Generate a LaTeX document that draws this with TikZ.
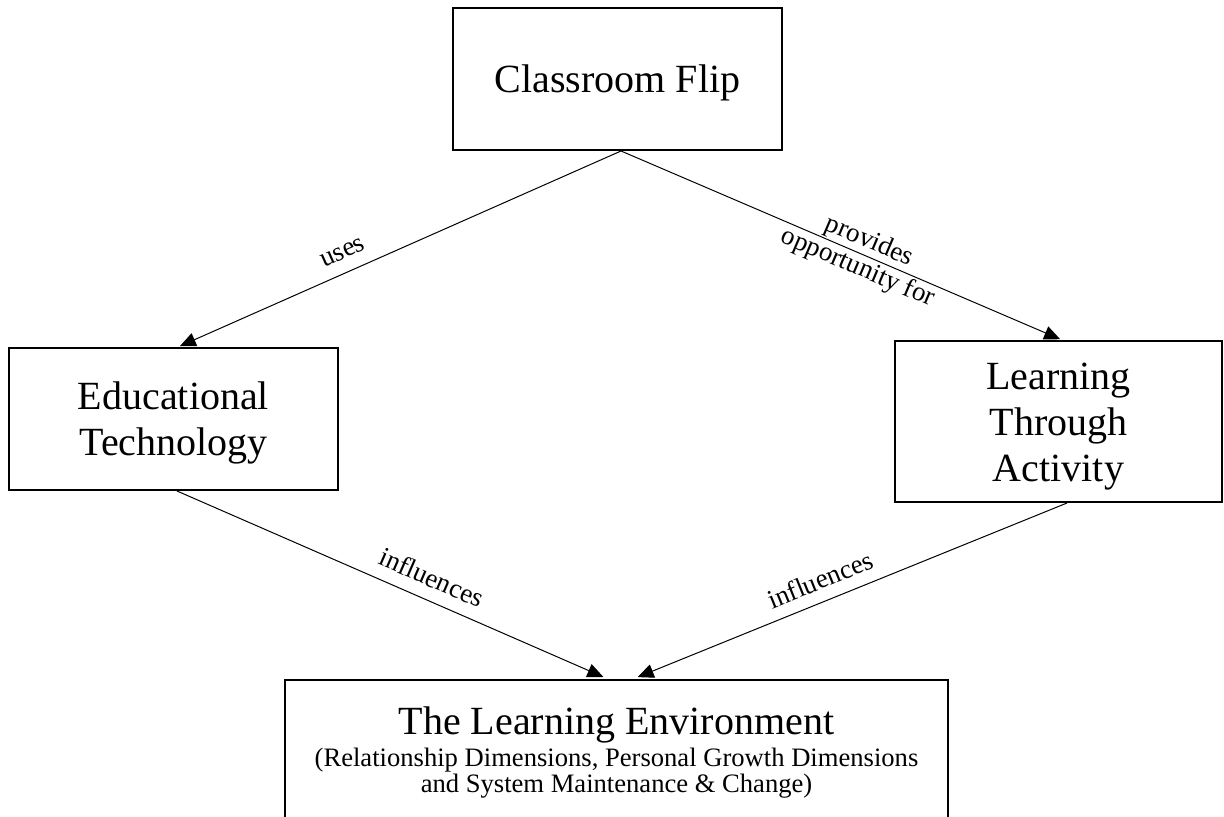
\documentclass[tikz,border=0pt]{standalone}
\usepackage{fontspec}
\setmainfont{Liberation Serif}
\usetikzlibrary{arrows.meta}

\newcommand{\subtext}{\fontsize{13.3}{13.5}\selectfont}
\newcommand{\toppad}{\rule{0pt}{18.2pt}}

\begin{document}
\begin{tikzpicture}[x=0.5pt,y=-0.5pt,
        >={Triangle[length=8pt,width=7pt]},
        box/.style={draw, line width=1pt, align=center, inner sep=0pt, font=\fontsize{20}{23}\selectfont},
        link/.style={->, line width=0.5pt, shorten >=1pt},
        lbl/.style={sloped, align=center, font=\fontsize{13.5}{14.4}\selectfont}]
        \useasboundingbox (0,0) rectangle (1224,817);

        % Draw the boxes
        \node[box, minimum width=164.5pt, minimum height=71pt] (flip) at (617.5,79) {\toppad Classroom Flip};
        \node[box, minimum width=164.5pt, minimum height=71pt] (edtech) at (173.5,419) {\toppad Educational\\Technology};
        \node[box, minimum width=163.5pt, minimum height=80.5pt] (activity) at (1058.5,421.5) {\toppad Learning\\Through\\Activity};
        \node[box, anchor=north, minimum width=331.5pt, inner ysep=13.5pt] (env) at (616.5,679)
            {The Learning Environment\\[-7pt]
             \subtext (Relationship Dimensions, Personal Growth Dimensions\\[-10pt]
             \subtext and System Maintenance \& Change)};

        % Draw the links from the flip
        \draw[link] ([xshift=1.75pt]flip.south) -- ([xshift=2.25pt]edtech.north)
            node[lbl, pos=0.61, above=3pt] {uses};
        \draw[link] ([xshift=1.75pt]flip.south) -- ([xshift=1.75pt]activity.north)
            node[lbl, pos=0.55] {provides\\opportunity for};

        % Draw the links into the learning environment
        \draw[link, shorten >=2.5pt] ([xshift=1.75pt]edtech.south) -- ([xshift=-4.25pt]env.north)
            node[lbl, pos=0.57, above=3pt] {influences};
        \draw[link, shorten >=2.5pt] ([xshift=4.25pt]activity.south) -- ([xshift=8.25pt]env.north)
            node[lbl, pos=0.55, above=2.5pt] {influences};

    \end{tikzpicture}
\end{document}
